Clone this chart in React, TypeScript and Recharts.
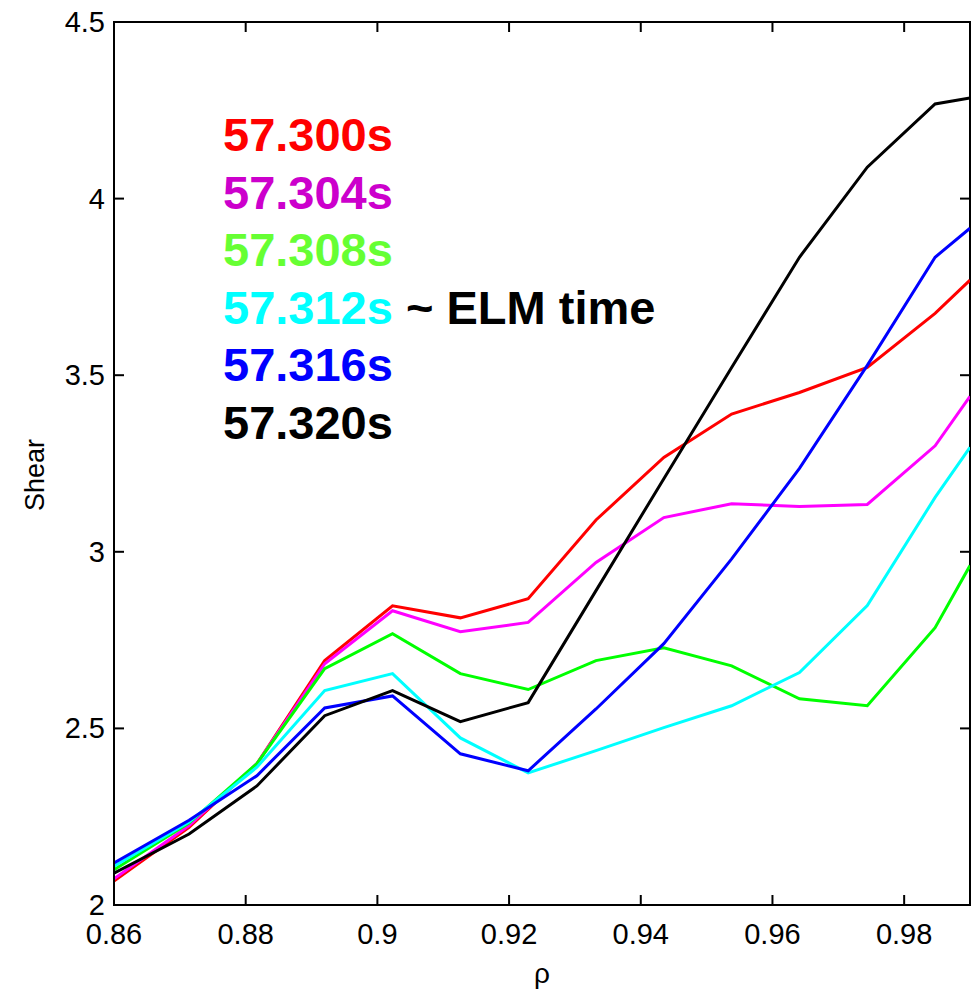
import { LineChart, Line, XAxis, YAxis, Legend, ReferenceArea } from 'recharts';

// rho grid points
const rho = [0.86, 0.8714, 0.8817, 0.892, 0.9023, 0.9126, 0.9229, 0.9332, 0.9435, 0.9538, 0.9641, 0.9744, 0.9847, 0.99];

// shear profiles at each time slice
const shear300 = [2.068, 2.22, 2.4, 2.692, 2.847, 2.813, 2.867, 3.09, 3.267, 3.39, 3.451, 3.522, 3.675, 3.769];
const shear304 = [2.074, 2.225, 2.4, 2.683, 2.833, 2.774, 2.8, 2.97, 3.097, 3.136, 3.128, 3.134, 3.3, 3.44];
const shear308 = [2.1, 2.232, 2.4, 2.669, 2.768, 2.655, 2.61, 2.692, 2.728, 2.677, 2.584, 2.564, 2.785, 2.961];
const shear312 = [2.11, 2.235, 2.39, 2.607, 2.655, 2.473, 2.374, 2.437, 2.502, 2.564, 2.658, 2.848, 3.154, 3.296];
const shear316 = [2.119, 2.24, 2.366, 2.558, 2.592, 2.428, 2.38, 2.555, 2.74, 2.98, 3.236, 3.528, 3.834, 3.916];
const shear320 = [2.09, 2.201, 2.337, 2.536, 2.607, 2.519, 2.573, 2.89, 3.207, 3.522, 3.834, 4.089, 4.268, 4.285];

const seriesNames = ['57.300s', '57.304s', '57.308s', '57.312s', '57.316s', '57.320s'];
const seriesValues = [shear300, shear304, shear308, shear312, shear316, shear320];
const lineColors = ['#ff0000', '#ff00ff', '#00ff00', '#00ffff', '#0000ff', '#000000'];
const labelColors = ['#ff0000', '#cc00cc', '#66ff33', '#00ffff', '#0000ff', '#000000'];
const labelNotes = ['', '', '', ' ~ ELM time', '', ''];

const xTicks = [0.86, 0.88, 0.9, 0.92, 0.94, 0.96, 0.98];
const yTicks = [2, 2.5, 3, 3.5, 4, 4.5];

const data = rho.map((r, i) => {
  const row: Record<string, number> = { rho: r };
  seriesNames.forEach((n, k) => { row[n] = seriesValues[k][i]; });
  return row;
});

const W = 980;
const H = 993;
const PLOT = { top: 22, bottom: 905, left: 114, right: 970 };
const TICK = 10;
const FONT = '"Liberation Sans", Arial, sans-serif';

const XTick = (props: any) => {
  const { x, payload } = props;
  return (
    <g>
      <line x1={x} x2={x} y1={PLOT.bottom} y2={PLOT.bottom - TICK} stroke="#000" strokeWidth={2} />
      <line x1={x} x2={x} y1={PLOT.top} y2={PLOT.top + TICK} stroke="#000" strokeWidth={2} />
      <text x={x} y={PLOT.bottom + 39} textAnchor="middle" fontSize={29} fontFamily={FONT} fill="#000">
        {String(payload.value)}
      </text>
    </g>
  );
};

const YTick = (props: any) => {
  const { y, payload } = props;
  return (
    <g>
      <line x1={PLOT.left} x2={PLOT.left + TICK} y1={y} y2={y} stroke="#000" strokeWidth={2} />
      <line x1={PLOT.right} x2={PLOT.right - TICK} y1={y} y2={y} stroke="#000" strokeWidth={2} />
      <text x={PLOT.left - 9} y={y + 10} textAnchor="end" fontSize={29} fontFamily={FONT} fill="#000">
        {String(payload.value)}
      </text>
    </g>
  );
};

const TimeLegend = () => (
  <div style={{ fontFamily: FONT, fontWeight: 'bold', fontSize: 47, lineHeight: '57.6px', whiteSpace: 'nowrap' }}>
    {seriesNames.map((n, i) => (
      <div key={n}>
        <span style={{ color: labelColors[i] }}>{n}</span>
        {labelNotes[i] && <span style={{ color: '#000' }}>{labelNotes[i]}</span>}
      </div>
    ))}
  </div>
);

export default function App() {
  return (
    <div style={{ position: 'absolute', left: 0, top: 0, background: '#fff' }}>
      <LineChart width={W} height={H} data={data} margin={{ top: PLOT.top, right: W - PLOT.right, left: 0, bottom: 0 }}>
        <XAxis
          dataKey="rho"
          type="number"
          domain={[0.86, 0.99]}
          ticks={xTicks}
          allowDataOverflow
          height={H - PLOT.bottom}
          tickSize={0}
          tickMargin={0}
          tickLine={false}
          tick={<XTick />}
          axisLine={{ stroke: '#000', strokeWidth: 2 }}
          label={() => (
            <text x={(PLOT.left + PLOT.right) / 2} y={983} textAnchor="middle" fontSize={28} fontFamily={FONT} fill="#000">ρ</text>
          )}
        />
        <YAxis
          type="number"
          domain={[2, 4.5]}
          ticks={yTicks}
          allowDataOverflow
          width={PLOT.left}
          tickSize={0}
          tickMargin={0}
          tickLine={false}
          tick={<YTick />}
          axisLine={{ stroke: '#000', strokeWidth: 2 }}
          label={() => (
            <text x={44} y={475} transform="rotate(-90 44 475)" textAnchor="middle" fontSize={27} fontFamily={FONT} fill="#000">Shear</text>
          )}
        />
        <ReferenceArea x1={0.86} x2={0.99} y1={2} y2={4.5} fill="none" stroke="#000" strokeWidth={2} />
        {seriesNames.map((n, i) => (
          <Line
            key={n}
            dataKey={n}
            type="linear"
            stroke={lineColors[i]}
            strokeWidth={3}
            dot={false}
            isAnimationActive={false}
          />
        ))}
        <Legend
          layout="vertical"
          align="center"
          verticalAlign="middle"
          content={<TimeLegend />}
          wrapperStyle={{ left: 223, top: 106, width: 'auto' }}
        />
      </LineChart>
    </div>
  );
}
